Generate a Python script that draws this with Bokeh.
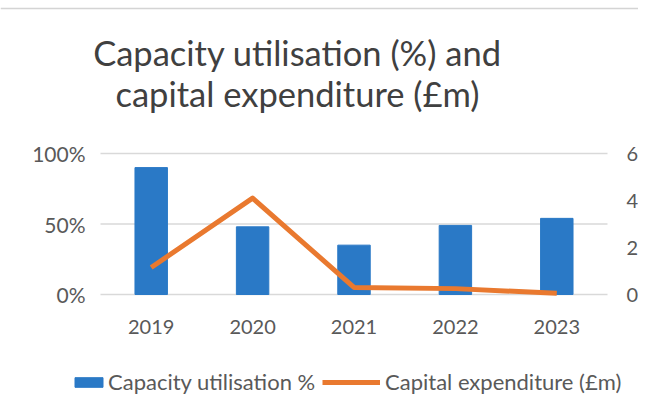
from bokeh.plotting import figure
from bokeh.models import (Range1d, LinearAxis, FixedTicker, NumeralTickFormatter,
                          Legend, LegendItem, Label, Span)
from bokeh.embed import file_html
from bokeh.resources import INLINE

years = ["2019", "2020", "2021", "2022", "2023"]
utilisation = [0.90, 0.48, 0.35, 0.49, 0.54]
capex = [1.15, 4.1, 0.3, 0.25, 0.05]
left_ticks = [0, 0.5, 1.0]
right_ticks = [0, 2, 4, 6]
capex_max = 6
title_lines = ["Capacity utilisation (%) and", "capital expenditure (£m)"]
series_names = ["Capacity utilisation %", "Capital expenditure (£m)"]

FONT = "Lato"
BLUE = "#2a79c6"
ORANGE = "#e9792f"
LABEL_COLOR = "#595959"

# canvas geometry (pixels): plot area spans x 100..607, y 153 (top) .. 294 (zero)
W, H = 638, 401
PX_L, PX_R, PX_T, PX_B = 100, 607, 153, 294
n = len(years)
ux = (PX_R - PX_L) / n          # pixels per category
uy = (PX_B - PX_T) / 1.0        # pixels per 100 %
x_lo, x_hi = -PX_L / ux, n + (W - PX_R) / ux
y_lo, y_hi = -(H - PX_B) / uy, 1 + PX_T / uy


def px_to_y(py):
    return 1 + (PX_T - py) / uy


def px_to_x(px):
    return (px - PX_L) / ux


xs = [i + 0.5 for i in range(n)]

p = figure(width=W, height=H, x_range=Range1d(x_lo, x_hi), y_range=Range1d(y_lo, y_hi),
           output_backend="svg", toolbar_location=None, title=None,
           x_axis_location=None, y_axis_location=None, min_border=0)
p.outline_line_color = None
p.grid.visible = False
p.extra_y_ranges = {"capex": Range1d(y_lo * capex_max, y_hi * capex_max)}

# horizontal gridlines across the plot area
p.segment(x0=0, x1=n, y0=left_ticks, y1=left_ticks, line_color="#d9d9d9", line_width=1.5)

bars = p.vbar(x=xs, top=utilisation, width=0.32, color=BLUE)
line = p.line(x=xs, y=capex, line_width=5, color=ORANGE, line_join="round",
              y_range_name="capex")

xax = LinearAxis(ticker=FixedTicker(ticks=xs),
                 major_label_overrides={x: y for x, y in zip(xs, years)},
                 fixed_location=0)
yax = LinearAxis(ticker=FixedTicker(ticks=left_ticks),
                 formatter=NumeralTickFormatter(format="0%"), fixed_location=0)
rax = LinearAxis(y_range_name="capex", ticker=FixedTicker(ticks=right_ticks),
                 fixed_location=n)
p.add_layout(xax, "below")
p.add_layout(yax, "left")
p.add_layout(rax, "right")
for ax, so, fs in [(yax, 15, "21px"), (rax, 19, "20px"), (xax, 25, "20px")]:
    ax.axis_line_color = None
    ax.major_tick_line_color = None
    ax.minor_tick_line_color = None
    ax.major_tick_out = 0
    ax.major_tick_in = 0
    ax.major_label_standoff = so
    ax.major_label_text_font = FONT
    ax.major_label_text_font_size = fs
    ax.major_label_text_color = LABEL_COLOR

# faint scan border at the top
p.add_layout(Span(location=px_to_y(8), dimension="width", line_color="#d4d4d4", line_width=1.5))

# two-line title
for txt, base_px in zip(title_lines, [52, 93]):
    p.add_layout(Label(x=px_to_x(297), y=px_to_y(base_px), text=txt, text_align="center",
                       text_baseline="alphabetic", text_font=FONT,
                       text_font_size="34.5px", text_color="#404040"))

common = dict(orientation="horizontal", padding=0, margin=0, spacing=0,
              border_line_color=None, background_fill_alpha=0,
              label_text_font=FONT, label_text_font_size="22px",
              label_text_color=LABEL_COLOR)
leg1 = Legend(items=[LegendItem(label=series_names[0], renderers=[bars])],
              location=(71, 6), glyph_width=35, glyph_height=12, label_standoff=2, **common)
leg2 = Legend(items=[LegendItem(label=series_names[1], renderers=[line])],
              location=(322, 6), glyph_width=58, glyph_height=12, label_standoff=5, **common)
p.add_layout(leg1)
p.add_layout(leg2)

open("out.html", "w").write(file_html(p, INLINE))
